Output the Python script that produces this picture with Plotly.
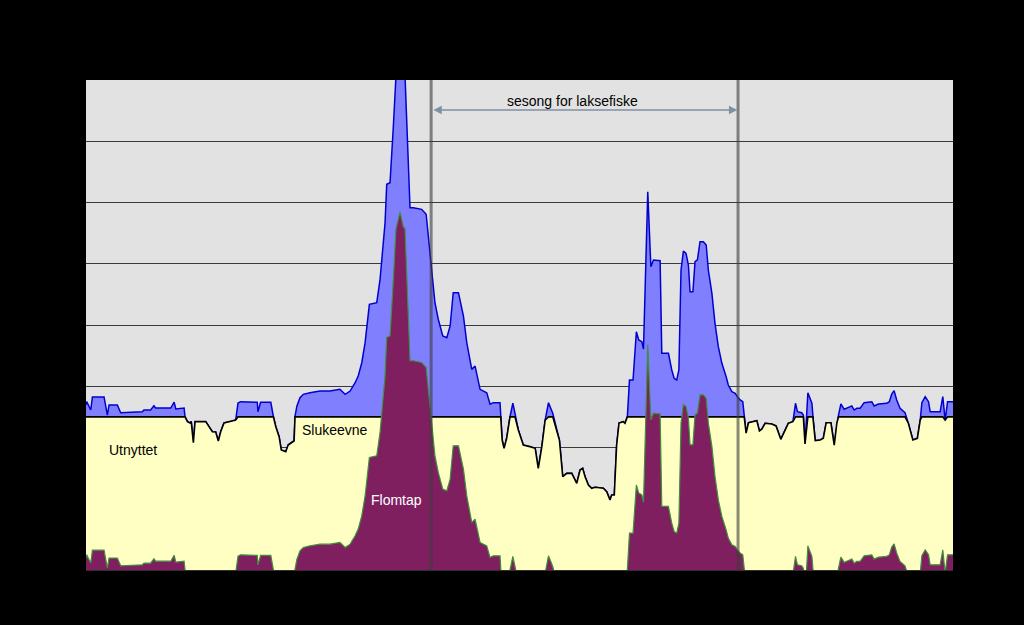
import numpy as np
import plotly.graph_objects as go

# Day of year (x) and river flow (y)
dag = [0, 0.3, 2.0, 2.7, 7.6, 9.0, 9.7, 13.2, 14.6, 23.7, 24.4, 27.2, 28.6, 29.3, 35.7, 37.1, 37.8, 41.3,
       41.7, 42.7, 43.8, 44.3, 45.2, 45.9, 50.4, 53.2, 54.6, 55.7, 56.7, 58.1, 60.9, 63.0, 64.0, 65.1,
       72.1, 72.4, 73.5, 77.8, 78.9, 79.9, 81.3, 82.2, 84.1, 85.1, 86.9, 87.6, 88.0, 88.8, 90.1, 91.5,
       94.3, 98.5, 102.7, 106.9, 109.1, 111.2, 113.3, 114.6, 116.1, 117.5, 119.3, 122.4, 123.8, 125.9,
       126.6, 128.0, 129.4, 130.5, 132.2, 133.6, 134.3, 135.3, 136.4, 137.8, 141.3, 143.2, 144.1, 145.6,
       146.9, 148.3, 150.2, 151.9, 153.3, 154.6, 156.8, 158.9, 160.3, 162.4, 163.8, 165.9, 168.7, 170.1,
       171.5, 174.3, 174.6, 175.2, 176.0, 177.1, 178.5, 179.7, 180.6, 182.0, 184.1, 186.9, 189.1, 190.4,
       191.9, 193.3, 194.7, 196.5, 198.2, 199.3, 200.7, 202.4, 204.5, 206.6, 208.0, 209.1, 210.1, 211.5,
       212.9, 214.3, 217.8, 219.2, 220.6, 221.3, 222.4, 223.4, 224.4, 226.2, 226.9, 227.9, 228.8, 230.3,
       231.7, 232.7, 234.0, 234.7, 236.5, 237.8, 238.9, 241.7, 242.4, 245.2, 246.6, 247.6, 248.7, 249.6,
       250.5, 251.5, 252.6, 253.6, 254.3, 255.5, 256.4, 257.4, 258.5, 259.9, 261.1, 262.0, 263.5, 264.8,
       266.2, 267.7, 269.5, 270.4, 271.9, 273.3, 274.2, 275.4, 276.5, 277.1, 277.9, 278.9, 282.4, 283.5,
       284.5, 285.9, 288.7, 290.5, 292.5, 294.3, 295.7, 297.6, 298.7, 299.5, 301.3, 302.0, 302.7, 303.9,
       305.6, 306.0, 307.0, 309.1, 310.4, 311.6, 313.6, 315.0, 316.1, 316.8, 317.8, 319.2, 321.0, 322.4,
       323.4, 324.5, 325.9, 327.6, 330.8, 331.8, 333.6, 337.1, 338.2, 339.2, 340.2, 341.3, 342.7, 344.8,
       346.2, 348.1, 350.0, 351.2, 351.9, 353.3, 354.7, 355.4, 359.6, 360.7, 361.7, 362.7, 365.0]

vannforing = [134.7, 137.4, 130.6, 141.2, 141.2, 126.5, 134.7, 134.7, 128.4, 129.2, 130.6, 130.6, 134.1, 132.2,
              132.2, 137.1, 131.4, 132.2, 125.1, 121.1, 120.0, 121.1, 103.9, 121.1, 121.1, 112.9, 112.7, 105.3,
              112.9, 120.0, 121.1, 122.4, 136.3, 137.4, 136.9, 129.2, 136.9, 136.9, 125.1, 117.0, 108.8, 98.0,
              96.6, 102.0, 104.7, 105.3, 125.7, 133.9, 140.7, 143.4, 144.7, 146.1, 146.1, 147.5, 143.4, 146.1,
              152.9, 158.4, 169.2, 185.6, 216.9, 218.2, 237.3, 283.5, 314.9, 316.2, 362.4, 403.3, 417.4, 405.1,
              403.8, 354.3, 295.8, 295.8, 294.4, 290.4, 272.7, 240.0, 218.2, 204.7, 191.0, 189.6, 199.2, 226.4,
              226.4, 207.3, 185.6, 163.8, 166.5, 147.5, 144.7, 135.3, 136.6, 136.6, 125.7, 106.1, 99.3, 107.5,
              125.1, 136.1, 127.9, 114.3, 102.0, 100.7, 99.3, 83.0, 100.7, 122.4, 136.6, 127.9, 114.3, 106.1,
              76.2, 78.9, 78.9, 70.8, 81.6, 83.0, 76.2, 69.4, 66.7, 67.5, 66.7, 63.9, 57.1, 61.2, 61.2, 102.0,
              120.0, 121.1, 119.8, 125.1, 155.1, 155.1, 194.5, 187.8, 186.4, 180.4, 308.8, 247.6, 253.1, 252.5,
              176.9, 176.9, 163.3, 156.5, 155.1, 163.3, 244.9, 260.4, 258.5, 249.0, 227.2, 227.2, 251.7, 253.1,
              268.0, 268.0, 265.3, 244.9, 225.9, 201.4, 182.3, 168.7, 157.8, 151.0, 145.6, 144.2, 141.5, 138.8,
              137.4, 125.1, 111.8, 120.2, 121.9, 113.5, 114.9, 119.8, 119.2, 117.6, 106.7, 114.3, 119.8, 121.1,
              136.1, 129.2, 128.4, 126.5, 102.9, 144.7, 136.1, 126.5, 105.6, 106.1, 107.5, 120.2, 120.2, 102.0,
              119.8, 126.5, 135.5, 131.2, 132.8, 133.9, 130.6, 132.0, 132.0, 136.6, 137.4, 133.9, 135.5, 136.1,
              137.4, 143.7, 146.4, 138.8, 132.0, 128.4, 119.8, 106.1, 107.5, 122.4, 136.6, 141.5, 137.4, 129.2,
              129.2, 141.5, 122.4, 137.4, 137.4]

slukeevne = 125          # turbine capacity
sesong_start = 145.3     # start of salmon fishing season (day)
sesong_slutt = 274.5     # end of salmon fishing season (day)

q = np.array(vannforing)
utnyttet = np.minimum(q, slukeevne)
flomtap = q - slukeevne   # negative part falls below the axis and is clipped

fig = go.Figure()
fig.add_trace(go.Scatter(x=dag, y=vannforing, mode="lines", fill="tozeroy",
                         fillcolor="#8080ff", line=dict(color="#0000d0", width=1.5),
                         hoverinfo="skip", showlegend=False))
fig.add_trace(go.Scatter(x=dag, y=utnyttet, mode="lines", fill="tozeroy",
                         fillcolor="#ffffc4", line=dict(color="#000000", width=1.6),
                         hoverinfo="skip", showlegend=False))
fig.add_trace(go.Scatter(x=dag, y=flomtap, mode="lines", fill="tozeroy",
                         fillcolor="#7f1f5f", line=dict(color="#3f8f3f", width=1.2),
                         hoverinfo="skip", showlegend=False))

for xv in (sesong_start, sesong_slutt):
    fig.add_shape(type="line", x0=xv, x1=xv, y0=0, y1=1, yref="paper", xref="x",
                  line=dict(color="rgba(60,60,60,0.6)", width=3), layer="above")

# double-headed arrow for the season
fig.add_annotation(x=sesong_slutt - 0.3, y=375.5, ax=sesong_start + 0.3, ay=375.5,
                   xref="x", yref="y", axref="x", ayref="y", text="", showarrow=True,
                   arrowhead=2, startarrowhead=2, arrowside="end+start", arrowsize=1.2,
                   arrowwidth=1.4, arrowcolor="#8090a4")

font = dict(family="Liberation Sans, Arial, sans-serif", size=14, color="#000000")
fig.add_annotation(x=204.6, y=382.9, text="sesong for laksefiske", showarrow=False, font=font)
fig.add_annotation(x=19.7, y=98, text="Utnyttet", showarrow=False, font=font)
fig.add_annotation(x=90.1, y=114.3, text="Slukeevne", showarrow=False, font=font, xanchor="left")
fig.add_annotation(x=130.7, y=57.1, text="Flomtap", showarrow=False,
                   font=dict(family="Liberation Sans, Arial, sans-serif", size=14, color="#ffffff"))

fig.update_layout(
    width=1024, height=625,
    margin=dict(l=86, r=71, t=80, b=55),
    paper_bgcolor="#000000", plot_bgcolor="#e2e2e2",
    showlegend=False,
    xaxis=dict(range=[0, 365], showgrid=False, zeroline=False, showticklabels=False,
               ticks="", showline=True, linecolor="#303030", linewidth=1),
    yaxis=dict(range=[0, 400], dtick=50, showgrid=True, gridcolor="#3a3a3a", gridwidth=1,
               zeroline=False, showticklabels=False, ticks="", showline=False),
)

fig.write_html("out.html")
